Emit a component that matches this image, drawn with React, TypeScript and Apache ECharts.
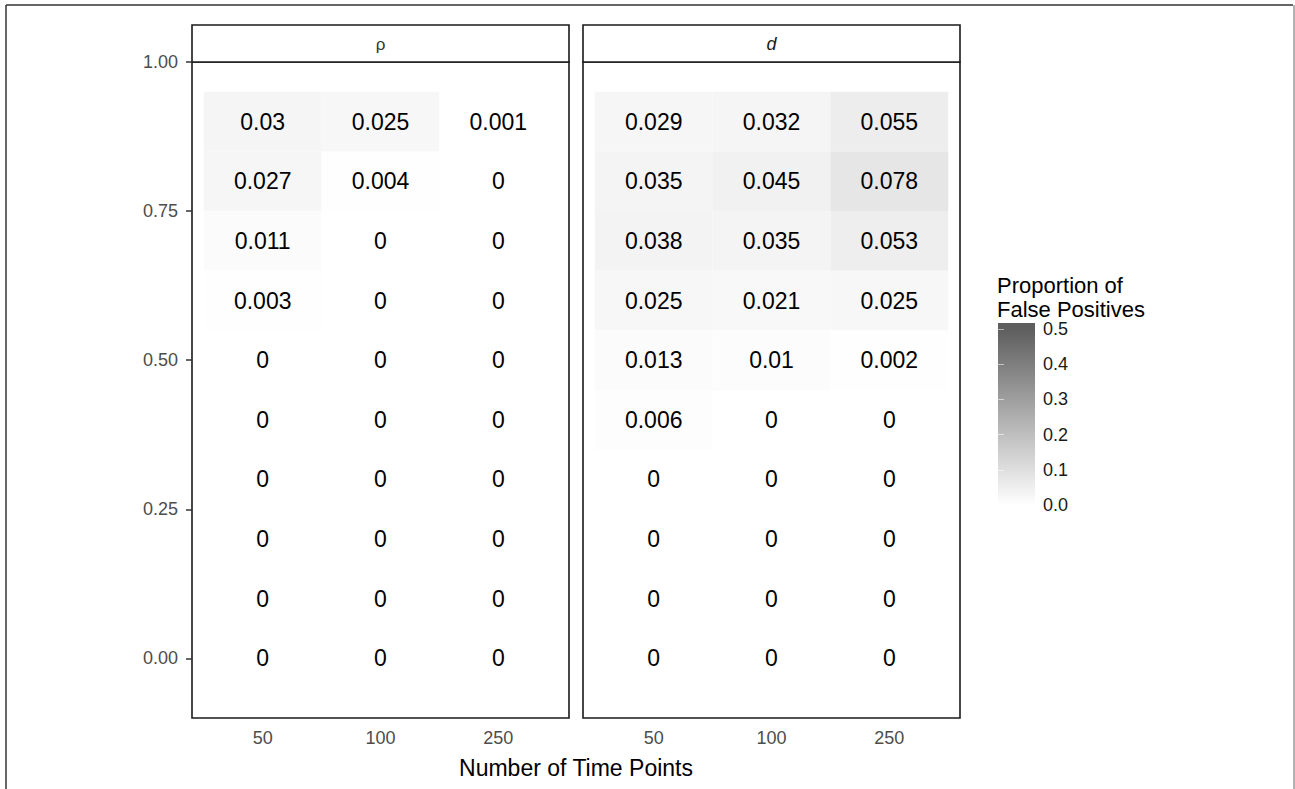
import React, { useEffect, useRef } from "react";
import * as echarts from "echarts";

const FONT = "'Liberation Sans', Arial, Helvetica, sans-serif";

// x categories (Number of Time Points)
const timePoints = ["50", "100", "250"];
// y positions of the tile rows (top to bottom)
const rowY = [0.9, 0.8, 0.7, 0.6, 0.5, 0.4, 0.3, 0.2, 0.1, 0.0];
// y tick labels
const yTicks = [0, 0.25, 0.5, 0.75, 1.0];
// legend ticks
const legendTicks = [0, 0.1, 0.2, 0.3, 0.4, 0.5];

// Proportion of false positives, facet "ρ" (rows follow rowY, columns follow timePoints)
const rhoValues = [
  [0.03, 0.025, 0.001],
  [0.027, 0.004, 0],
  [0.011, 0, 0],
  [0.003, 0, 0],
  [0, 0, 0],
  [0, 0, 0],
  [0, 0, 0],
  [0, 0, 0],
  [0, 0, 0],
  [0, 0, 0],
];

// facet "d"
const dValues = [
  [0.029, 0.032, 0.055],
  [0.035, 0.045, 0.078],
  [0.038, 0.035, 0.053],
  [0.025, 0.021, 0.025],
  [0.013, 0.01, 0.002],
  [0.006, 0, 0],
  [0, 0, 0],
  [0, 0, 0],
  [0, 0, 0],
  [0, 0, 0],
];

const LOW = "#ffffff";
const HIGH = "#5e5e5e";

function toData(vals: number[][]) {
  const out: number[][] = [];
  vals.forEach((row, ri) => {
    row.forEach((v, ci) => {
      out.push([ci + 1, rowY[ri], v]);
    });
  });
  return out;
}

const renderTile = (params: any, api: any) => {
  const x = api.value(0);
  const y = api.value(1);
  const v = api.value(2);
  const p0 = api.coord([x - 0.5, y + 0.05]);
  const p1 = api.coord([x + 0.5, y - 0.05]);
  const c = api.coord([x, y]);
  return {
    type: "group",
    children: [
      {
        type: "rect",
        shape: { x: p0[0], y: p0[1], width: p1[0] - p0[0], height: p1[1] - p0[1] },
        style: { fill: api.visual("color") },
      },
      {
        type: "text",
        x: c[0],
        y: c[1],
        style: {
          text: String(v),
          align: "center",
          verticalAlign: "middle",
          fontSize: 23,
          fontFamily: FONT,
          fill: "#000000",
        },
      },
    ],
  };
};

export default function App() {
  const ref = useRef<HTMLDivElement>(null);

  useEffect(() => {
    if (!ref.current) return;
    const chart = echarts.init(ref.current, undefined, { renderer: "svg" });

    const xAxisCommon = (gridIndex: number) => ({
      gridIndex,
      type: "value",
      min: 0.4,
      max: 3.6,
      axisLine: { show: false },
      splitLine: { show: false },
      axisTick: {
        show: true,
        customValues: [1, 2, 3],
        length: 6,
        lineStyle: { color: "#333333", width: 1.5 },
      },
      axisLabel: {
        show: true,
        customValues: [1, 2, 3],
        formatter: (v: number) => timePoints[Math.round(v) - 1],
        color: "#4d4d4d",
        fontSize: 18,
        fontFamily: FONT,
        margin: 11,
      },
    });

    const yAxisCommon = (gridIndex: number, showLabels: boolean) => ({
      gridIndex,
      type: "value",
      min: -0.1,
      max: 1.0,
      axisLine: { show: false },
      splitLine: { show: false },
      axisTick: {
        show: showLabels,
        customValues: yTicks,
        length: 6,
        lineStyle: { color: "#333333", width: 1.5 },
      },
      axisLabel: {
        show: showLabels,
        customValues: yTicks,
        formatter: (v: number) => v.toFixed(2),
        color: "#4d4d4d",
        fontSize: 18,
        fontFamily: FONT,
        margin: 14,
      },
    });

    const option: any = {
      animation: false,
      backgroundColor: "#ffffff",
      textStyle: { fontFamily: FONT },
      grid: [
        { left: 192, top: 62, width: 377, height: 656, show: true, borderColor: "#1a1a1a", borderWidth: 1.6, backgroundColor: "transparent" },
        { left: 583, top: 62, width: 377, height: 656, show: true, borderColor: "#1a1a1a", borderWidth: 1.6, backgroundColor: "transparent" },
        { left: 998, top: 329, width: 37, height: 176, show: false },
      ],
      xAxis: [
        xAxisCommon(0),
        xAxisCommon(1),
        { gridIndex: 2, type: "value", min: 0, max: 1, show: false },
      ],
      yAxis: [
        yAxisCommon(0, true),
        yAxisCommon(1, false),
        {
          gridIndex: 2,
          type: "value",
          position: "right",
          min: 0,
          max: 0.5,
          interval: 0.1,
          axisLine: { show: false },
          splitLine: { show: false },
          axisTick: {
            show: true,
            inside: true,
            length: 6,
            customValues: legendTicks,
            lineStyle: { color: "rgba(255,255,255,0.55)", width: 1 },
          },
          axisLabel: {
            show: true,
            customValues: legendTicks,
            formatter: (v: number) => v.toFixed(1),
            color: "#1a1a1a",
            fontSize: 18,
            fontFamily: FONT,
            margin: 8,
          },
        },
        {
          gridIndex: 2,
          type: "value",
          position: "left",
          min: 0,
          max: 0.5,
          interval: 0.1,
          axisLine: { show: false },
          splitLine: { show: false },
          axisTick: {
            show: true,
            inside: true,
            length: 6,
            customValues: legendTicks,
            lineStyle: { color: "rgba(255,255,255,0.55)", width: 1 },
          },
          axisLabel: { show: false },
        },
      ],
      visualMap: {
        type: "continuous",
        show: false,
        min: 0,
        max: 0.5,
        dimension: 2,
        seriesIndex: [0, 1],
        inRange: { color: [LOW, HIGH] },
      },
      series: [
        {
          type: "custom",
          name: "ρ",
          xAxisIndex: 0,
          yAxisIndex: 0,
          renderItem: renderTile,
          data: toData(rhoValues),
          clip: true,
          z: 1,
        },
        {
          type: "custom",
          name: "d",
          xAxisIndex: 1,
          yAxisIndex: 1,
          renderItem: renderTile,
          data: toData(dValues),
          clip: true,
          z: 1,
        },
      ],
      graphic: [
        // figure frame
        { type: "line", shape: { x1: 6, y1: 5, x2: 1293, y2: 5 }, style: { stroke: "#333333", lineWidth: 1.5 } },
        { type: "line", shape: { x1: 6, y1: 5, x2: 6, y2: 789 }, style: { stroke: "#333333", lineWidth: 1.5 } },
        { type: "line", shape: { x1: 1294, y1: 5, x2: 1294, y2: 789 }, style: { stroke: "#999999", lineWidth: 1.5 } },
        // facet strips
        { type: "rect", shape: { x: 192, y: 25, width: 377, height: 37 }, style: { fill: "#ffffff", stroke: "#1a1a1a", lineWidth: 1.6 } },
        { type: "rect", shape: { x: 583, y: 25, width: 377, height: 37 }, style: { fill: "#ffffff", stroke: "#1a1a1a", lineWidth: 1.6 } },
        {
          type: "text",
          x: 380.5,
          y: 44,
          style: { text: "ρ", align: "center", verticalAlign: "middle", fontSize: 17, fontFamily: FONT, fill: "#333333" },
        },
        {
          type: "text",
          x: 771.5,
          y: 44,
          style: { text: "d", align: "center", verticalAlign: "middle", fontSize: 18, fontStyle: "italic", fontFamily: FONT, fill: "#1a1a1a" },
        },
        // x-axis title
        {
          type: "text",
          x: 576,
          y: 768,
          style: { text: "Number of Time Points", align: "center", verticalAlign: "middle", fontSize: 23, fontFamily: FONT, fill: "#000000" },
        },
        // legend title (two lines)
        {
          type: "text",
          x: 997,
          y: 285,
          style: { text: "Proportion of", align: "left", verticalAlign: "middle", fontSize: 22, fontFamily: FONT, fill: "#000000" },
        },
        {
          type: "text",
          x: 997,
          y: 309,
          style: { text: "False Positives", align: "left", verticalAlign: "middle", fontSize: 22, fontFamily: FONT, fill: "#000000" },
        },
        {
          type: "rect",
          z: -1,
          shape: { x: 998, y: 323, width: 37, height: 188 },
          style: {
            fill: new echarts.graphic.LinearGradient(0, 0, 0, 1, [
              { offset: 0, color: HIGH },
              { offset: 0.03, color: HIGH },
              { offset: 0.97, color: LOW },
              { offset: 1, color: LOW },
            ]),
          },
        },
      ],
    };

    chart.setOption(option);
    return () => {
      chart.dispose();
    };
  }, []);

  return (
    <div
      ref={ref}
      style={{ position: "absolute", left: 0, top: 0, width: 1295, height: 789, background: "#ffffff" }}
    />
  );
}
